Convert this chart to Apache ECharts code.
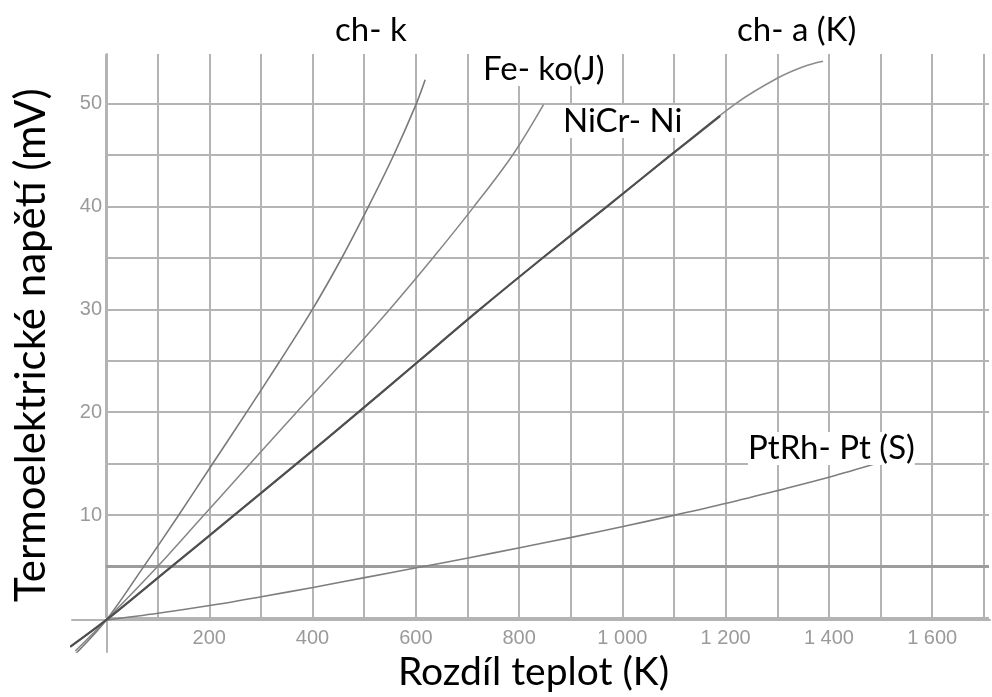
<!DOCTYPE html>
<html>
<head>
<meta charset="utf-8">
<script src="https://cdn.jsdelivr.net/npm/echarts@6/dist/echarts.min.js"></script>
<style>html,body{margin:0;padding:0;background:#fff;}#c{width:992px;height:697px;}</style>
</head>
<body>
<div id="c"></div>
<script>
// ---- data (temperature difference K, thermoelectric voltage mV) ----
const chK_T   = [-60, 0, 70, 138, 204, 270, 335, 398, 455, 507, 556, 600, 617];
const chK_mV  = [-3.3, 0, 5, 10, 15, 20, 25, 30, 35, 40, 45, 50, 52.3];

const feKo_T  = [-60, 0, 96, 186, 276, 366, 458, 547, 631, 711, 786, 846];
const feKo_mV = [-3.0, 0, 5, 10, 15, 20, 25, 30, 35, 40, 45, 49.9];

const niCr_T  = [-70, 0, 122, 244, 365, 485, 603, 721, 843, 968, 1092, 1188];
const niCr_mV = [-2.6, 0, 5, 10, 15, 20, 25, 30, 35, 40, 45, 48.8];

const chA_T   = [-70, 0, 122, 244, 365, 485, 603, 721, 843, 968, 1092, 1218, 1300, 1350, 1387];
const chA_mV  = [-2.6, 0, 5, 10, 15, 20, 25, 30, 35, 40, 45, 50, 52.5, 53.6, 54.1];

const ptRh_T  = [0, 100, 200, 300, 400, 500, 600, 700, 800, 900, 1000, 1100, 1200, 1300, 1400, 1493];
const ptRh_mV = [0, 0.65, 1.4, 2.25, 3.15, 4.1, 5.05, 6.0, 7.0, 8.0, 9.05, 10.15, 11.3, 12.55, 13.85, 15.2];

const refLine_mV = 5;

const xTickValues = [200, 400, 600, 800, 1000, 1200, 1400, 1600];
const xTickLabels = ['200', '400', '600', '800', '1 000', '1 200', '1 400', '1 600'];
const yTickValues = [10, 20, 30, 40, 50];
const yTickLabels = ['10', '20', '30', '40', '50'];

const seriesNames = ['ch- k', 'Fe- ko(J)', 'NiCr- Ni', 'ch- a (K)', 'PtRh- Pt (S)'];
const xTitle = 'Rozdíl teplot (K)';
const yTitle = 'Termoelektrické napětí (mV)';
// --------------------------------------------------------------------

function zip(a, b) { return a.map((v, i) => [v, b[i]]); }

const FONT = 'Lato';
const gridColor = '#b4b4b4';

const chart = echarts.init(document.getElementById('c'), null, {renderer: 'canvas'});

function lineSeries(name, T, V, color, width, z) {
  return {
    name: name, type: 'line', xAxisIndex: 1, yAxisIndex: 1,
    data: zip(T, V), showSymbol: false, smooth: 0.35, z: z,
    lineStyle: {color: color, width: width}, silent: true
  };
}

function label(text, left, top) {
  return {
    type: 'text', left: left, top: top, z: 100,
    style: {text: text, fill: '#000', font: '33px ' + FONT, backgroundColor: '#fff'}
  };
}

const option = {
  animation: false,
  backgroundColor: '#fff',
  grid: [
    {left: 106, right: 2, top: 54, bottom: 77},
    {left: 72, right: 2, top: 54, bottom: 45}
  ],
  xAxis: [
    {
      gridIndex: 0, type: 'value', min: 0, max: 1710, interval: 100,
      axisLine: {show: false}, axisTick: {show: false},
      splitLine: {show: true, showMaxLine: false, lineStyle: {color: gridColor, width: 2}},
      axisLabel: {
        interval: 0, margin: 10, color: '#9a9a9a', fontSize: 20, fontFamily: 'Liberation Sans',
        formatter: function (v) { const i = xTickValues.indexOf(v); return i >= 0 ? xTickLabels[i] : ''; }
      },
      name: xTitle, nameLocation: 'middle', nameGap: 32,
      nameTextStyle: {color: '#000', fontSize: 39, fontFamily: FONT, padding: [0, 28, 0, 0]}
    },
    {
      gridIndex: 1, type: 'value', min: -66.4, max: 1710,
      axisLine: {show: true, onZero: true, lineStyle: {color: gridColor, width: 2}},
      axisTick: {show: false}, axisLabel: {show: false}, splitLine: {show: false}
    }
  ],
  yAxis: [
    {
      gridIndex: 0, type: 'value', min: 0, max: 54.8, interval: 5,
      axisLine: {show: false}, axisTick: {show: false},
      splitLine: {show: true, showMaxLine: false, lineStyle: {color: gridColor, width: 2}},
      axisLabel: {
        interval: 0, margin: 4, color: '#9a9a9a', fontSize: 20, fontFamily: 'Liberation Sans',
        formatter: function (v) { const i = yTickValues.indexOf(v); return i >= 0 ? yTickLabels[i] : ''; }
      },
      name: yTitle, nameLocation: 'middle', nameGap: 54,
      nameTextStyle: {color: '#000', fontSize: 42, fontFamily: FONT, padding: [0, 18, 0, 0]}
    },
    {
      gridIndex: 1, type: 'value', min: -3.1, max: 54.8,
      axisLine: {show: true, onZero: true, lineStyle: {color: gridColor, width: 2}},
      axisTick: {show: false}, axisLabel: {show: false}, splitLine: {show: false}
    }
  ],
  series: [
    {
      type: 'line', xAxisIndex: 0, yAxisIndex: 0, data: [], silent: true,
      markLine: {
        symbol: 'none', silent: true, animation: false, label: {show: false},
        lineStyle: {color: '#9c9c9c', width: 3, type: 'solid'},
        data: [{yAxis: refLine_mV}]
      }
    },
    lineSeries(seriesNames[0], chK_T, chK_mV, '#7a7a7a', 1.6, 5),
    lineSeries(seriesNames[1], feKo_T, feKo_mV, '#858585', 1.5, 5),
    lineSeries(seriesNames[3], chA_T, chA_mV, '#8c8c8c', 1.6, 4),
    lineSeries(seriesNames[2], niCr_T, niCr_mV, '#4e4e4e', 2.2, 6),
    lineSeries(seriesNames[4], ptRh_T, ptRh_mV, '#7e7e7e', 1.6, 5)
  ],
  graphic: [
    label(seriesNames[0], 335, 14),
    label(seriesNames[1], 483, 53),
    label(seriesNames[2], 563, 105),
    label(seriesNames[3], 737, 14),
    label(seriesNames[4], 748, 432)
  ]
};

chart.setOption(option);
</script>
</body>
</html>
